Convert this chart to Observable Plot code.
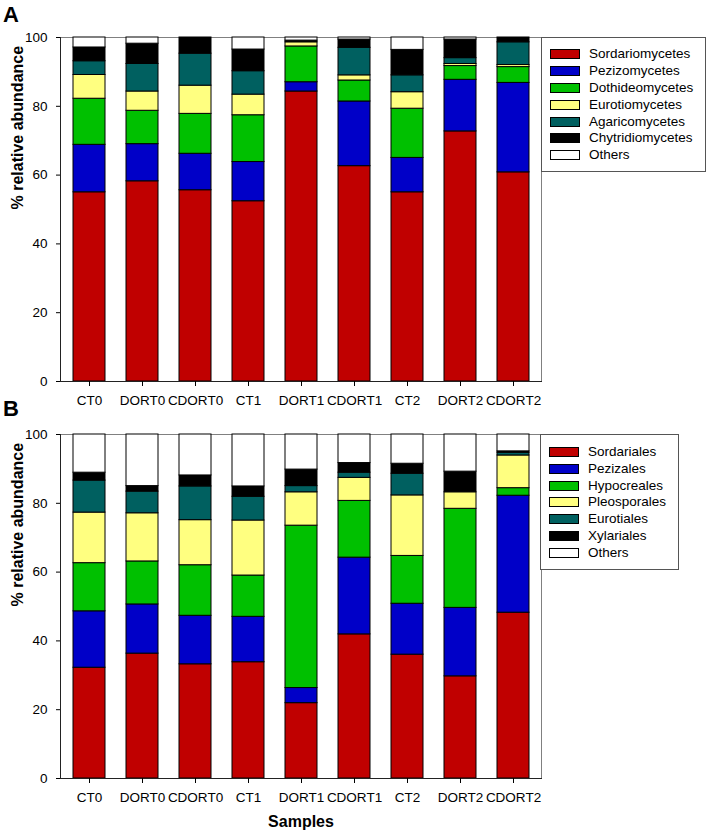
<!DOCTYPE html>
<html>
<head>
<meta charset="utf-8">
<script src="https://cdn.jsdelivr.net/npm/d3@7"></script>
<script src="https://cdn.jsdelivr.net/npm/@observablehq/plot@0.6"></script>
<style>
  body { margin: 0; background: #fff; }
  #wrap { position: relative; width: 711px; height: 834px; font-family: 'Liberation Sans', Arial, sans-serif; color: #000; }
  .pan { position: absolute; left: 0; }
  .plabel { position: absolute; font-size: 22px; font-weight: bold; line-height: 1; }
  .legend { position: absolute; border: 1px solid #555; box-sizing: border-box; background: #fff; }
  .row { position: absolute; left: 0; height: 16px; width: 100%; }
  .sw { position: absolute; left: 8px; width: 30px; height: 10px; border: 1px solid #000; box-sizing: border-box; }
  .lt { position: absolute; left: 47px; font-size: 13.5px; line-height: 16px; white-space: nowrap; }
</style>
</head>
<body>
<div id="wrap"></div>
<script>
const samples = ["CT0","DORT0","CDORT0","CT1","DORT1","CDORT1","CT2","DORT2","CDORT2"];
const yTicks = [0, 20, 40, 60, 80, 100];
const colors = ["#C00000","#0000C8","#00C000","#FFFF80","#006060","#000000","#FFFFFF"];

// Panel A: classes
const classesA = ["Sordariomycetes","Pezizomycetes","Dothideomycetes","Eurotiomycetes","Agaricomycetes","Chytridiomycetes","Others"];
const sordariomycetes  = [55.0, 58.2, 55.6, 52.4, 84.3, 62.6, 55.0, 72.7, 60.8];
const pezizomycetes    = [13.8, 10.8, 10.6, 11.4,  2.7, 18.8, 10.0, 15.0, 26.0];
const dothideomycetes  = [13.4,  9.7, 11.6, 13.6, 10.4,  6.1, 14.3,  4.0,  4.6];
const eurotiomycetes   = [ 6.9,  5.6,  8.2,  6.0,  1.2,  1.5,  4.8,  0.6,  0.6];
const agaricomycetes   = [ 4.0,  8.0,  9.3,  6.8,  0.0,  8.0,  4.9,  1.7,  6.6];
const chytridiomycetes = [ 4.0,  5.9,  4.7,  6.3,  0.5,  2.4,  7.4,  5.4,  1.4];
const othersA          = [ 2.9,  1.8,  0.0,  3.5,  0.9,  0.6,  3.6,  0.6,  0.0];

// Panel B: orders
const classesB = ["Sordariales","Pezizales","Hypocreales","Pleosporales","Eurotiales","Xylariales","Others"];
const sordariales  = [32.2, 36.3, 33.2, 33.8, 21.9, 41.9, 36.0, 29.7, 48.2];
const pezizales    = [16.4, 14.3, 14.1, 13.2,  4.4, 22.3, 14.8, 19.9, 34.0];
const hypocreales  = [14.0, 12.5, 14.7, 12.0, 47.2, 16.5, 13.9, 28.8,  2.2];
const pleosporales = [14.7, 14.0, 13.1, 16.0,  9.7,  6.7, 17.6,  4.8,  9.5];
const eurotiales   = [ 9.3,  6.3,  9.8,  6.9,  1.8,  1.5,  6.3,  0.0,  0.8];
const xylariales   = [ 2.3,  1.6,  3.2,  3.0,  4.8,  2.8,  2.9,  6.0,  0.4];
const othersB      = [11.1, 15.0, 11.9, 15.1, 10.2,  8.3,  8.5, 10.8,  4.9];

const seriesA = [sordariomycetes, pezizomycetes, dothideomycetes, eurotiomycetes, agaricomycetes, chytridiomycetes, othersA];
const seriesB = [sordariales, pezizales, hypocreales, pleosporales, eurotiales, xylariales, othersB];

function longData(classes, series) {
  return classes.flatMap((c, i) => samples.map((s, j) => ({sample: s, group: c, value: series[i][j]})))
    .filter(d => d.value > 0);
}

function panel(classes, series, height, marginBottom, withXTitle) {
  const data = longData(classes, series);
  const marks = [
    Plot.frame({stroke: "#808080"}),
    Plot.barY(data, {x: "sample", y: "value", fill: "group", stroke: "#000", strokeWidth: 1}),
    Plot.frame({anchor: "left", stroke: "#222"}),
    Plot.frame({anchor: "bottom", stroke: "#222"}),
    Plot.axisX({tickSize: 5, tickPadding: 9, label: null}),
    Plot.axisY({ticks: yTicks, tickSize: 4, tickPadding: 9, label: null}),
    Plot.text(["% relative abundance"], {frameAnchor: "left", dx: -43, rotate: -90, fontWeight: "bold", fontSize: 16, lineAnchor: "middle"})
  ];
  if (withXTitle) {
    marks.push(Plot.text(["Samples"], {frameAnchor: "bottom", dy: 43, fontWeight: "bold", fontSize: 16, lineAnchor: "middle"}));
  }
  return Plot.plot({
    width: 711,
    height,
    marginTop: 37,
    marginBottom,
    marginLeft: 60,
    marginRight: 170,
    x: {domain: samples, paddingInner: 0.4, paddingOuter: 0.2, label: null},
    y: {domain: [0, 100], label: null},
    color: {domain: classes, range: colors},
    style: {fontFamily: "'Liberation Sans', Arial, sans-serif", fontSize: "13.5px", color: "#000", background: "transparent", overflow: "visible"},
    marks
  });
}

function legend(classes, left, top, width, height, firstRow) {
  const box = document.createElement("div");
  box.className = "legend";
  Object.assign(box.style, {left: left + "px", top: top + "px", width: width + "px", height: height + "px"});
  classes.forEach((c, i) => {
    const row = document.createElement("div");
    row.className = "row";
    row.style.top = (firstRow + 16.8 * i - 8) + "px";
    const sw = document.createElement("div");
    sw.className = "sw";
    sw.style.top = "3px";
    sw.style.background = colors[i];
    const lt = document.createElement("div");
    lt.className = "lt";
    lt.textContent = c;
    row.appendChild(sw);
    row.appendChild(lt);
    box.appendChild(row);
  });
  return box;
}

const wrap = document.getElementById("wrap");

const a = panel(classesA, seriesA, 415, 34, false);
a.classList.add("pan");
a.style.top = "0px";
wrap.appendChild(a);

const b = panel(classesB, seriesB, 437, 56, true);
b.classList.add("pan");
b.style.top = "397px";
wrap.appendChild(b);

wrap.appendChild(legend(classesA, 541, 37, 165, 135, 16.3));
wrap.appendChild(legend(classesB, 540, 434, 139, 136, 17));

const la = document.createElement("div");
la.className = "plabel"; la.textContent = "A";
Object.assign(la.style, {left: "3px", top: "4px"});
wrap.appendChild(la);
const lb = document.createElement("div");
lb.className = "plabel"; lb.textContent = "B";
Object.assign(lb.style, {left: "3px", top: "398px"});
wrap.appendChild(lb);
</script>
</body>
</html>
